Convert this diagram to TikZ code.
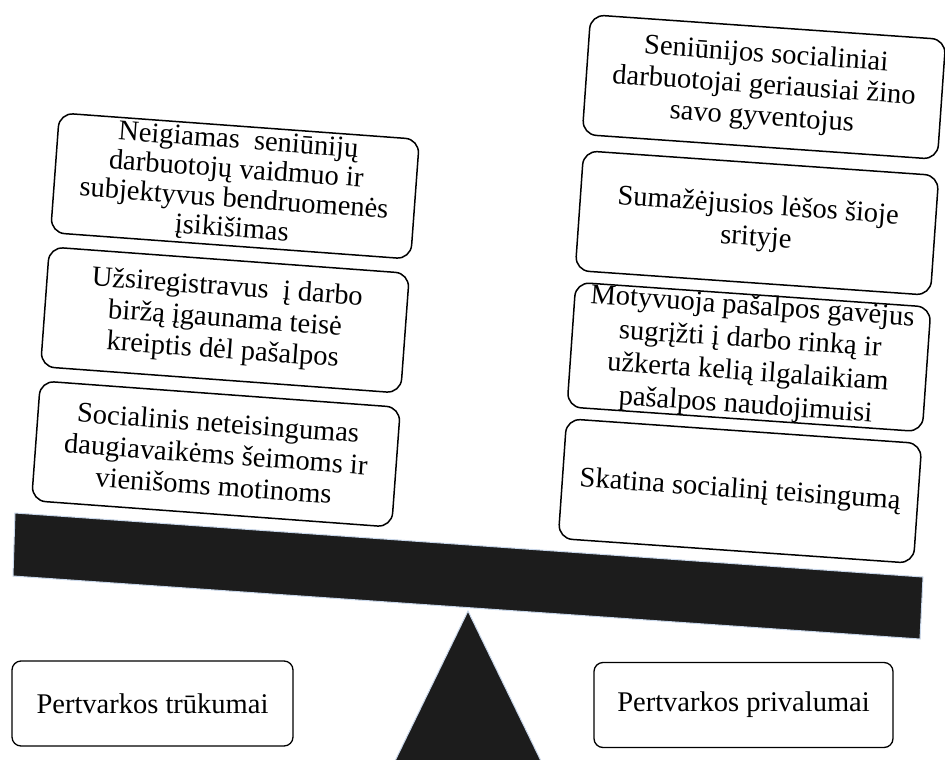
\documentclass[tikz,border=0pt]{standalone}
\usepackage{fontspec}
\setmainfont{Liberation Serif}
\definecolor{barfill}{HTML}{1C1C1C}
\definecolor{barrim}{HTML}{C9D7EA}
\begin{document}
\begin{tikzpicture}[x=1pt,y=-1pt,
  card/.style={draw=black, line width=1.5pt, rounded corners=14pt, fill=white,
    align=center, inner sep=0pt, font=\fontsize{28.5}{31.5}\selectfont},
  leftcard/.style={card, rotate=-4.2, minimum width=361pt, minimum height=120pt},
  rightcard/.style={card, rotate=-4.0, minimum width=356pt, minimum height=120pt},
  tag/.style={draw=black, line width=1.3pt, rounded corners=9pt, fill=white,
    align=center, inner sep=0pt, minimum height=85pt,
    font=\fontsize{28.5}{31.5}\selectfont},
  heavy/.style={fill=barfill, draw=barrim, line width=1pt}
]
\useasboundingbox (0,0) rectangle (945,760);

% the lever and its pivot
\path[heavy] (15,513) -- (923,577) -- (920,639) -- (13,576) -- cycle;
\path[heavy] (468,611) -- (541,761) -- (395,761) -- cycle;

% labels under the lever
\node[tag, minimum width=281pt] (cons) at (152.5,703.5) {Pertvarkos trūkumai};
\node[tag, minimum width=299pt] (pros) at (743.5,705) {Pertvarkos privalumai};

% drawbacks, stacked on the left arm
\node[leftcard, font=\fontsize{28.5}{29.5}\selectfont] (l1) at (235,186)
  {Neigiamas\ \ seniūnijų\\darbuotojų vaidmuo ir\\subjektyvus bendruomenės\\įsikišimas};
\node[leftcard] (l2) at (225,320)
  {Užsiregistravus\ \ į darbo\\biržą įgaunama teisė\\kreiptis dėl pašalpos};
\node[leftcard] (l3) at (216,454)
  {Socialinis neteisingumas\\daugiavaikėms šeimoms ir\\vienišoms motinoms};

% advantages, stacked on the right arm
\node[rightcard] (r1) at (764,87)
  {Seniūnijos socialiniai\\darbuotojai geriausiai\ žino\\savo gyventojus};
\node[rightcard] (r2) at (757,223)
  {Sumažėjusios lėšos šioje\\srityje};
\node[rightcard, minimum height=115pt, font=\fontsize{28.5}{33}\selectfont] (r3) at (749,357)
  {Motyvuoja pašalpos gavėjus\\sugrįžti į darbo rinką ir\\užkerta kelią ilgalaikiam\\pašalpos naudojimuisi};
\node[rightcard] (r4) at (740,491)
  {Skatina socialinį teisingumą};
\end{tikzpicture}
\end{document}
